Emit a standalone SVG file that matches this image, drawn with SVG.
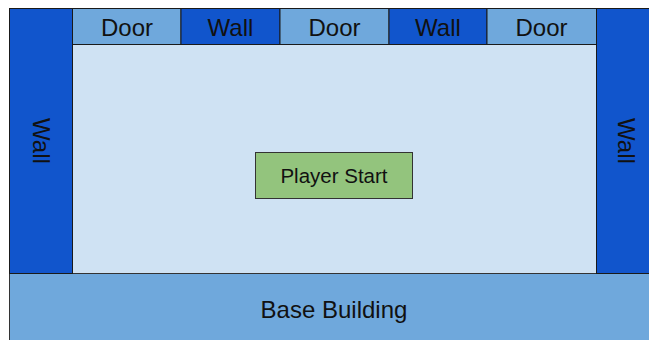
<svg xmlns="http://www.w3.org/2000/svg" width="649" height="340" viewBox="0 0 649 340">
  <style>
    .wall { fill: #1155cc; stroke: #1a1a1a; stroke-width: 1; }
    .door { fill: #6fa8dc; stroke: #1a1a1a; stroke-width: 1; }
    .floor { fill: #cfe2f3; stroke: #333; stroke-width: 1; }
    .base { fill: #6fa8dc; stroke: #333; stroke-width: 1; }
    .start { fill: #93c47d; stroke: #333; stroke-width: 1; }
    .lbl { font-family: "Liberation Sans", Arial, sans-serif; font-size: 24px; fill: #111; text-anchor: middle; }
    .lbl-s { font-family: "Liberation Sans", Arial, sans-serif; font-size: 20.5px; fill: #111; text-anchor: middle; }
  </style>
  <rect x="0" y="0" width="649" height="340" fill="#ffffff"/>
  <g id="floor"><rect class="floor" x="72.5" y="44.5" width="524" height="229"/></g>
  <g id="base-building">
    <rect class="base" x="9.5" y="273.5" width="660" height="80"/>
    <text class="lbl" x="334" y="318.3">Base Building</text>
  </g>
  <g id="wall-left">
    <rect class="wall" x="9.5" y="8.5" width="63" height="265"/>
    <text class="lbl" transform="translate(41.5,141) rotate(90)" x="0" y="8.6">Wall</text>
  </g>
  <g id="wall-right">
    <rect class="wall" x="596.5" y="8.5" width="70" height="265"/>
    <text class="lbl" transform="translate(627,141) rotate(90)" x="0" y="8.6">Wall</text>
  </g>
  <g id="door-1">
    <rect class="door" x="72.5" y="8.5" width="108.5" height="36"/>
    <text class="lbl" x="127" y="35.7">Door</text>
  </g>
  <g id="wall-top-1">
    <rect class="wall" x="181" y="8.5" width="99" height="36"/>
    <text class="lbl" x="230.5" y="35.7">Wall</text>
  </g>
  <g id="door-2">
    <rect class="door" x="280" y="8.5" width="109" height="36"/>
    <text class="lbl" x="334.5" y="35.7">Door</text>
  </g>
  <g id="wall-top-2">
    <rect class="wall" x="389" y="8.5" width="98" height="36"/>
    <text class="lbl" x="438" y="35.7">Wall</text>
  </g>
  <g id="door-3">
    <rect class="door" x="487" y="8.5" width="109.5" height="36"/>
    <text class="lbl" x="541.5" y="35.7">Door</text>
  </g>
  <g id="player-start">
    <rect class="start" x="255.5" y="152.5" width="157" height="46"/>
    <text class="lbl-s" x="334" y="183.3">Player Start</text>
  </g>
  <g id="connectors"></g>
</svg>
